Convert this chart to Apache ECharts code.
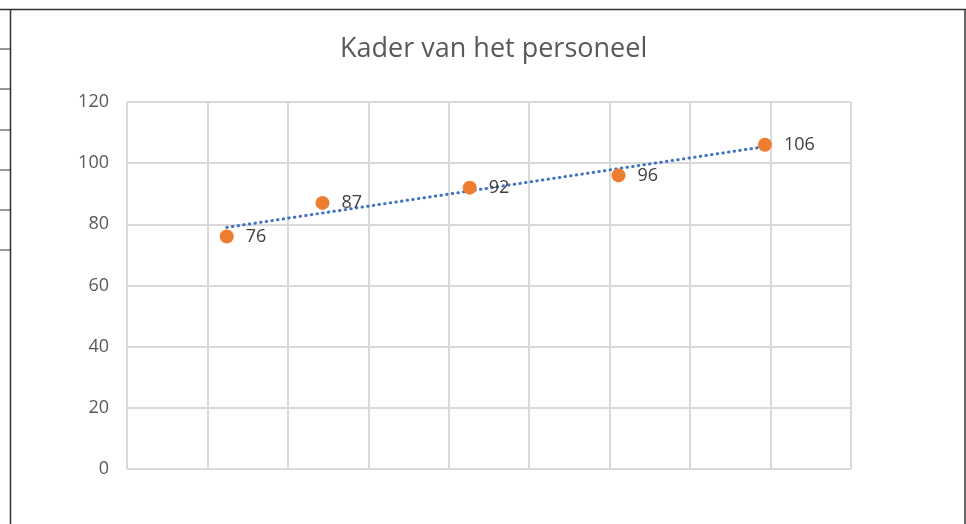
<!DOCTYPE html>
<html>
<head>
<meta charset="utf-8">
<script src="https://cdn.jsdelivr.net/npm/echarts@6/dist/echarts.min.js"></script>
<style>
  html, body { margin: 0; padding: 0; background: #fff; }
  #main { width: 966px; height: 524px; }
</style>
</head>
<body>
<div id="main"></div>
<script>
// data
var xValues = [1.24, 2.43, 4.26, 6.11, 7.93];
var yValues = [76, 87, 92, 96, 106];
// linear trendline end points (Excel-style)
var trendX = [1.24, 7.93];
var trendY = [79.0, 105.4];
var yTicks = [0, 20, 40, 60, 80, 100, 120];

var chart = echarts.init(document.getElementById('main'));

var points = xValues.map(function (x, i) { return [x, yValues[i]]; });
var trend = trendX.map(function (x, i) { return [x, trendY[i]]; });

// spreadsheet cell borders on the left edge
var cellLines = [49, 89, 130, 170, 210, 250].map(function (y) {
    return {
        type: 'line',
        shape: {x1: 0, y1: y, x2: 10, y2: y},
        style: {stroke: '#333', lineWidth: 1}
    };
});

chart.setOption({
    animation: false,
    title: {
        text: 'Kader van het personeel',
        left: 335,
        top: 31,
        textStyle: {
            fontFamily: 'Open Sans',
            fontWeight: 'normal',
            fontSize: 27,
            color: '#595959'
        }
    },
    grid: {left: 127, right: 115, top: 102, bottom: 55},
    xAxis: {
        type: 'value',
        min: 0,
        max: 9,
        interval: 1,
        axisLabel: {show: false},
        axisTick: {show: false},
        axisLine: {show: false},
        splitLine: {lineStyle: {color: '#d9d9d9', width: 2}}
    },
    yAxis: {
        type: 'value',
        min: yTicks[0],
        max: yTicks[yTicks.length - 1],
        interval: 20,
        axisLine: {show: false},
        axisTick: {show: false},
        axisLabel: {
            fontFamily: 'Open Sans',
            fontSize: 18,
            color: '#595959',
            margin: 18
        },
        splitLine: {lineStyle: {color: '#d9d9d9', width: 2}}
    },
    series: [
        {
            type: 'line',
            data: trend,
            symbol: 'none',
            lineStyle: {color: '#4472C4', width: 3, type: [0.5, 5.2], cap: 'round'},
            z: 3
        },
        {
            type: 'scatter',
            data: points,
            symbolSize: 14,
            itemStyle: {color: '#ED7D31', opacity: 1},
            label: {
                show: true,
                position: 'right',
                distance: 12,
                formatter: function (p) { return p.value[1]; },
                fontFamily: 'Open Sans',
                fontSize: 18,
                color: '#404040'
            },
            z: 4
        }
    ],
    graphic: [
        {
            type: 'line',
            shape: {x1: 0, y1: 9.5, x2: 966, y2: 9.5},
            style: {stroke: '#333', lineWidth: 1.5}
        },
        {
            type: 'line',
            shape: {x1: 10.5, y1: 9, x2: 10.5, y2: 524},
            style: {stroke: '#333', lineWidth: 1.5}
        },
        {
            type: 'line',
            shape: {x1: 965, y1: 9, x2: 965, y2: 524},
            style: {stroke: '#333', lineWidth: 1.5}
        }
    ].concat(cellLines)
});
</script>
</body>
</html>
